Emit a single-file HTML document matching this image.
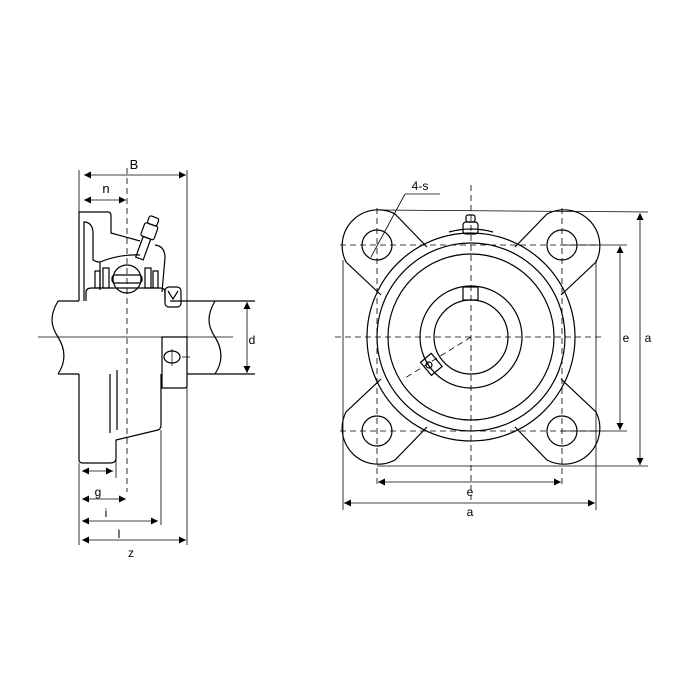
<!DOCTYPE html>
<html><head><style>html,body{margin:0;padding:0;background:#fff}svg{display:block}</style></head><body>
<svg width="700" height="700" viewBox="0 0 700 700" xmlns="http://www.w3.org/2000/svg" font-family="Liberation Sans, sans-serif" fill="none" stroke="#000" stroke-width="1.2">
<defs>
<marker id="ar" viewBox="0 0 10 10" refX="10" refY="5" markerWidth="9" markerHeight="7" orient="auto-start-reverse" markerUnits="userSpaceOnUse"><path d="M0,0L10,5L0,10z" fill="#000" stroke="none"/></marker>
</defs>
<!-- LEFT VIEW -->
<g>
<path d="M58,301 C50,315 50,325 58,337 C66,350 66,362 58,374"/>
<path d="M215,301 C207,315 207,325 215,337 C223,350 223,362 215,374"/>
<line x1="58" y1="301" x2="79" y2="301"/><line x1="170" y1="301" x2="255" y2="301"/>
<line x1="58" y1="374" x2="79" y2="374"/><line x1="187" y1="374" x2="255" y2="374"/>
<line x1="38" y1="337" x2="233" y2="337" stroke-width="0.8"/>
<path d="M79,301 L79,212 L108,212 Q111,212 111,216 L111,233 L140,241"/>
<path d="M84,301 L84,222 Q92,222 93,232 L93,260 Q96,262 100,262 L100,290"/>
<path d="M100,262 Q120,254 140,255"/>
<path d="M155,245 Q165,246 165,258 L162,292"/>
<path d="M86,301 L86,292 Q86,288 92,288 L160,288 Q165,288 165,292 L165,301"/>
<circle cx="127" cy="279" r="14"/>
<rect x="112" y="275" width="30" height="8" rx="3"/>
<rect x="103" y="268" width="6" height="20"/><rect x="145" y="268" width="6" height="20"/>
<rect x="95" y="271" width="5" height="17"/><rect x="153" y="271" width="5" height="17"/>
<g transform="rotate(20 148 235)">
<rect x="141" y="224" width="14" height="14" rx="2"/>
<rect x="144" y="238" width="8" height="22"/>
<rect x="143" y="216" width="10" height="8" rx="2"/>
</g>
<rect x="165" y="287" width="16" height="20" rx="4"/>
<path d="M168,291 L173,299 L178,291"/>
<path d="M79,374 L79,460 Q79,463 83,463 L110,463 Q116,463 116,458 L116,440 L158,430 Q161,429 161,425 L161,374"/>
<line x1="110" y1="374" x2="110" y2="433"/>
<path d="M117,370 L117,430"/>
<path d="M162,337 L187,337 L187,386 Q187,388 184,388 L162,388 Z"/>
<ellipse cx="172" cy="357" rx="8" ry="6"/>
<line x1="172" y1="349" x2="172" y2="366" stroke-width="0.7"/>
<line x1="182" y1="357" x2="190" y2="357" stroke-width="0.7"/>
<line x1="127" y1="168" x2="127" y2="492" stroke-dasharray="6,4" stroke-width="0.8"/>
<g stroke-width="0.8">
<line x1="79" y1="170" x2="79" y2="212"/>
<line x1="187" y1="170" x2="187" y2="545"/>
<line x1="84" y1="175" x2="186" y2="175" marker-start="url(#ar)" marker-end="url(#ar)"/>
<line x1="84" y1="200" x2="126" y2="200" marker-start="url(#ar)" marker-end="url(#ar)"/>
<line x1="79" y1="463" x2="79" y2="545"/>
<line x1="116" y1="440" x2="116" y2="478"/>
<line x1="161" y1="430" x2="161" y2="525"/>
<line x1="82" y1="471" x2="113" y2="471" marker-start="url(#ar)" marker-end="url(#ar)"/>
<line x1="82" y1="499" x2="126" y2="499" marker-start="url(#ar)" marker-end="url(#ar)"/>
<line x1="82" y1="521" x2="158" y2="521" marker-start="url(#ar)" marker-end="url(#ar)"/>
<line x1="82" y1="540" x2="186" y2="540" marker-start="url(#ar)" marker-end="url(#ar)"/>
<line x1="247" y1="302" x2="247" y2="373" marker-start="url(#ar)" marker-end="url(#ar)"/>
</g>
<g fill="#000" stroke="none" font-size="12">
<text x="134" y="169" text-anchor="middle" font-size="13">B</text>
<text x="106" y="193" text-anchor="middle" font-size="13">n</text>
<text x="98" y="496" text-anchor="middle">g</text>
<text x="106" y="517" text-anchor="middle">i</text>
<text x="119" y="538" text-anchor="middle">l</text>
<text x="131" y="557" text-anchor="middle">z</text>
<text x="252" y="344" text-anchor="middle">d</text>
</g>
</g>
<!-- RIGHT VIEW -->
<g>
<path d="M427,247 L395,214 A36,36 0 0 0 346,262 L381,295"/>
<path d="M515,247 L547,214 A36,36 0 0 1 596,262 L561,295"/>
<path d="M381,379 L346,412 A36,36 0 0 0 395,460 L427,427"/>
<path d="M561,379 L596,412 A36,36 0 0 1 547,460 L515,427"/>
<circle cx="377" cy="245" r="15"/><circle cx="562" cy="245" r="15"/>
<circle cx="377" cy="431" r="15"/><circle cx="562" cy="431" r="15"/>
<circle cx="471" cy="337" r="104"/>
<circle cx="471" cy="337" r="94"/>
<circle cx="471" cy="337" r="83"/>
<circle cx="471" cy="337" r="51"/>
<circle cx="471" cy="337" r="37"/>
<path d="M449,232 Q471,226 493,232" />
<rect x="463" y="222" width="15" height="12" rx="3"/>
<rect x="466" y="215" width="9" height="7" rx="2"/>
<rect x="463" y="287" width="15" height="13"/>
<rect x="424" y="356" width="14" height="17" transform="rotate(-40 431 364)"/>
<circle cx="429" cy="365" r="3"/>
<g stroke-width="0.8" stroke-dasharray="6,4">
<line x1="471" y1="185" x2="471" y2="500"/>
<line x1="335" y1="337" x2="605" y2="337"/>
<line x1="377" y1="208" x2="377" y2="487"/>
<line x1="562" y1="208" x2="562" y2="487"/>
<line x1="340" y1="245" x2="600" y2="245"/>
<line x1="340" y1="431" x2="600" y2="431"/>
<line x1="471" y1="337" x2="405" y2="378"/>
</g>
<g stroke-width="0.8">
<line x1="343" y1="260" x2="343" y2="510"/>
<line x1="596" y1="260" x2="596" y2="510"/>
<line x1="377" y1="210" x2="648" y2="212"/>
<line x1="377" y1="466" x2="648" y2="466"/>
<line x1="562" y1="245" x2="627" y2="245"/>
<line x1="562" y1="431" x2="627" y2="431"/>
<line x1="620" y1="246" x2="620" y2="430" marker-start="url(#ar)" marker-end="url(#ar)"/>
<line x1="640" y1="213" x2="640" y2="465" marker-start="url(#ar)" marker-end="url(#ar)"/>
<line x1="378" y1="482" x2="561" y2="482" marker-start="url(#ar)" marker-end="url(#ar)"/>
<line x1="344" y1="503" x2="595" y2="503" marker-start="url(#ar)" marker-end="url(#ar)"/>
<line x1="371" y1="257" x2="405" y2="194"/>
<line x1="405" y1="194" x2="440" y2="194"/>
</g>
<g fill="#000" stroke="none" font-size="12">
<text x="420" y="190" text-anchor="middle">4-s</text>
<text x="626" y="342" text-anchor="middle">e</text>
<text x="648" y="342" text-anchor="middle">a</text>
<text x="470" y="496" text-anchor="middle">e</text>
<text x="470" y="516" text-anchor="middle">a</text>
</g>
</g>
</svg>
</body></html>
